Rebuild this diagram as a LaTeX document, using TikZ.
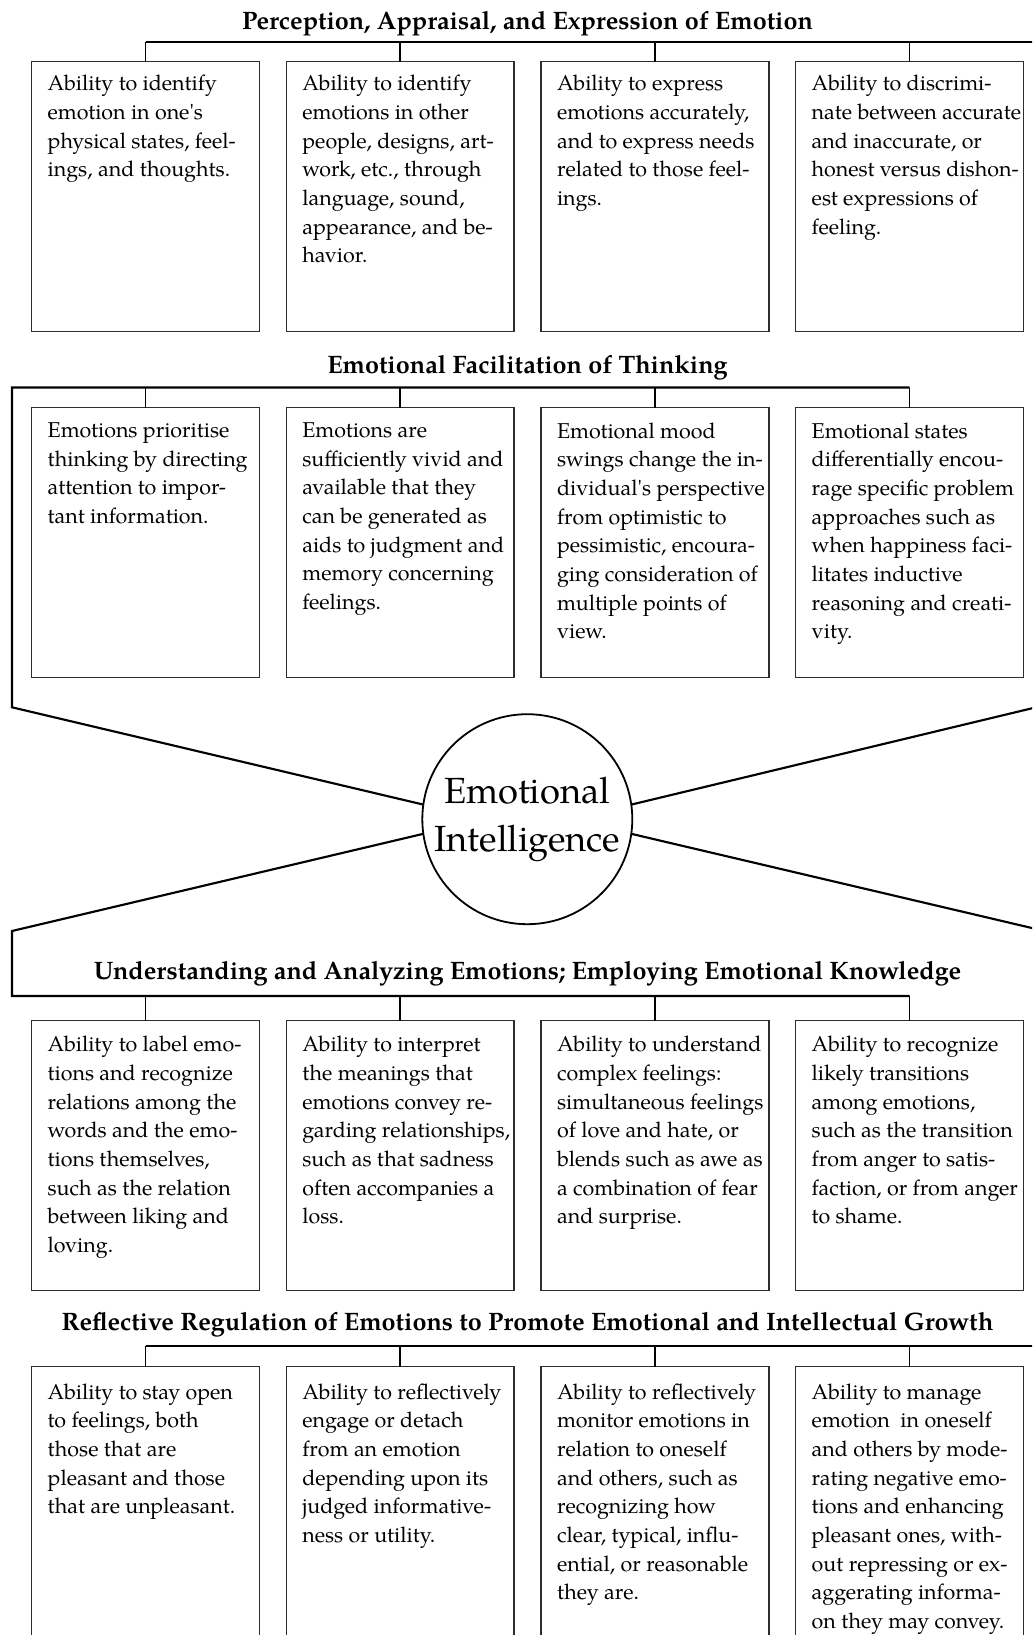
\documentclass[tikz,border=0pt]{standalone}
\usepackage{fontspec}
\setmainfont{TeX Gyre Pagella}
\tikzset{every picture/.style={line width=0.75pt}}
\tikzset{
  box/.style={draw={rgb, 255:red, 45; green, 45; blue, 45}, line width=1.1pt, anchor=north, minimum width=170.8pt, minimum height=202.5pt, inner sep=0pt, outer sep=0pt},
  boxtext/.style={anchor=north west, align=left, inner sep=0pt, font=\fontsize{16.1}{21.5}\selectfont, execute at begin node=\strut},
  heading/.style={anchor=base, inner sep=0pt, font=\bfseries\fontsize{18.9}{22}\selectfont},
  hub/.style={circle, draw, line width=1.35pt, minimum size=157.5pt, inner sep=0pt, outer sep=0pt, align=center, font=\fontsize{27.3}{36.2}\selectfont},
  trunk/.style={line width=1.6pt},
  stub/.style={line width=1.1pt}
}

\begin{document}
\begin{tikzpicture}[x=0.75pt,y=0.75pt,yscale=-1,xscale=1]
\useasboundingbox (0,0) rectangle (1032,1635);
\clip (0,0) rectangle (1032,1635);

% Hub
\node[hub] (ei) at (527.3,819.2) {Emotional\\Intelligence};

%Shape: Rectangle -- Perception
\node[box] (p1) at (145.5,61.7) {};
\node[box] (p2) at (400.2,61.7) {};
\node[box] (p3) at (654.9,61.7) {};
\node[box] (p4) at (909.6,61.7) {};
%Shape: Rectangle -- Facilitation
\node[box] (f1) at (145.5,407.7) {};
\node[box] (f2) at (400.2,407.7) {};
\node[box] (f3) at (654.9,407.7) {};
\node[box] (f4) at (909.6,407.7) {};
%Shape: Rectangle -- Understanding
\node[box] (u1) at (145.5,1020.5) {};
\node[box] (u2) at (400.2,1020.5) {};
\node[box] (u3) at (654.9,1020.5) {};
\node[box] (u4) at (909.6,1020.5) {};
%Shape: Rectangle -- Regulation (runs off the page)
\node[box, minimum height=240pt] (r1) at (145.5,1366.7) {};
\node[box, minimum height=240pt] (r2) at (400.2,1366.7) {};
\node[box, minimum height=240pt] (r3) at (654.9,1366.7) {};
\node[box, minimum height=240pt] (r4) at (909.6,1366.7) {};

% Bar ends
\coordinate (pbar) at (1034,41.7);
\coordinate (pk) at (1034,707.8);
\coordinate (fl) at (12,387.5);
\coordinate (fk) at (12,707.3);
\coordinate (uk) at (12,931);
\coordinate (ul) at (12,996);
\coordinate (rk) at (1034,928.5);
\coordinate (rbar) at (1034,1346);

%Straight Lines -- Perception
\draw[trunk] (ei.8) -- (pk);
\draw[trunk] (p1.north |- pbar) -- (pbar);
\draw[stub] (p1.north) -- (p1.north |- pbar);
\draw[stub] (p2.north) -- (p2.north |- pbar);
\draw[stub] (p3.north) -- (p3.north |- pbar);
\draw[stub] (p4.north) -- (p4.north |- pbar);
%Straight Lines -- Facilitation
\draw[trunk] (ei.172) -- (fk) -- (fl) -- (f4.north |- fl);
\draw[stub] (f1.north) -- (f1.north |- fl);
\draw[stub] (f2.north) -- (f2.north |- fl);
\draw[stub] (f3.north) -- (f3.north |- fl);
\draw[stub] (f4.north) -- (f4.north |- fl);
%Straight Lines -- Understanding
\draw[trunk] (ei.188) -- (uk) -- (ul) -- (u4.north |- ul);
\draw[stub] (u1.north) -- (u1.north |- ul);
\draw[stub] (u2.north) -- (u2.north |- ul);
\draw[stub] (u3.north) -- (u3.north |- ul);
\draw[stub] (u4.north) -- (u4.north |- ul);
%Straight Lines -- Regulation
\draw[trunk] (ei.352) -- (rk);
\draw[trunk] (r1.north |- rbar) -- (rbar);
\draw[stub] (r1.north) -- (r1.north |- rbar);
\draw[stub] (r2.north) -- (r2.north |- rbar);
\draw[stub] (r3.north) -- (r3.north |- rbar);
\draw[stub] (r4.north) -- (r4.north |- rbar);

% Text Node -- headings
\node[heading] (hp) at (527.5,29.3) {Perception, Appraisal, and Expression of Emotion};
\node[heading] (hf) at (527.5,373.3) {Emotional Facilitation of Thinking};
\node[heading] (hu) at (527.5,979.5) {Understanding and Analyzing Emotions; Employing Emotional Knowledge};
\node[heading] (hr) at (527.5,1330) {Reflective Regulation of Emotions to Promote Emotional and Intellectual Growth};

% Text Node -- Perception
\node[boxtext] (p1t) at ([shift={(15.5,13)}]p1.north west) {Ability to identify\\emotion in one\textquotesingle s\\physical states, feel-\\ings, and thoughts.};
\node[boxtext] (p2t) at ([shift={(15.5,13)}]p2.north west) {Ability to identify\\emotions in other\\people, designs, art-\\work, etc., through\\language, sound,\\appearance, and be-\\havior.};
\node[boxtext] (p3t) at ([shift={(15.5,13)}]p3.north west) {Ability to express\\emotions accurately,\\and to express needs\\related to those feel-\\ings.};
\node[boxtext] (p4t) at ([shift={(15.5,13)}]p4.north west) {Ability to discrimi-\\nate between accurate\\and inaccurate, or\\honest versus dishon-\\est expressions of\\feeling.};

% Text Node -- Facilitation
\node[boxtext] (f1t) at ([shift={(15.5,14.4)}]f1.north west) {Emotions prioritise\\thinking by directing\\attention to impor-\\tant information.};
\node[boxtext] (f2t) at ([shift={(15.5,14.4)}]f2.north west) {Emotions are\\sufficiently vivid and\\available that they\\can be generated as\\aids to judgment and\\memory concerning\\feelings.};
\node[boxtext] (f3t) at ([shift={(15.5,14.4)}]f3.north west) {Emotional mood\\swings change the in-\\dividual\textquotesingle s perspective\\from optimistic to\\pessimistic, encoura-\\ging consideration of\\multiple points of\\view.};
\node[boxtext] (f4t) at ([shift={(15.5,14.4)}]f4.north west) {Emotional states\\differentially encou-\\rage specific problem\\approaches such as\\when happiness faci-\\litates inductive\\reasoning and creati-\\vity.};

% Text Node -- Understanding
\node[boxtext] (u1t) at ([shift={(15.5,15.1)}]u1.north west) {Ability to label emo-\\tions and recognize\\relations among the\\words and the emo-\\tions themselves,\\such as the relation\\between liking and\\loving.};
\node[boxtext] (u2t) at ([shift={(15.5,15.1)}]u2.north west) {Ability to interpret\\the meanings that\\emotions convey re-\\garding relationships,\\such as that sadness\\often accompanies a\\loss.};
\node[boxtext] (u3t) at ([shift={(15.5,15.1)}]u3.north west) {Ability to understand\\complex feelings:\\simultaneous feelings\\of love and hate, or\\blends such as awe as\\a combination of fear\\and surprise.};
\node[boxtext] (u4t) at ([shift={(15.5,15.1)}]u4.north west) {Ability to recognize\\likely transitions\\among emotions,\\such as the transition\\from anger to satis-\\faction, or from anger\\to shame.};

% Text Node -- Regulation
\node[boxtext] (r1t) at ([shift={(15.5,16.4)}]r1.north west) {Ability to stay open\\to feelings, both\\those that are\\pleasant and those\\that are unpleasant.};
\node[boxtext] (r2t) at ([shift={(15.5,16.4)}]r2.north west) {Ability to reflectively\\engage or detach\\from an emotion\\depending upon its\\judged informative-\\ness or utility.};
\node[boxtext] (r3t) at ([shift={(15.5,16.4)}]r3.north west) {Ability to reflectively\\monitor emotions in\\relation to oneself\\and others, such as\\recognizing how\\clear, typical, influ-\\ential, or reasonable\\they are.};
\node[boxtext] (r4t) at ([shift={(15.5,16.4)}]r4.north west) {Ability to manage\\emotion~ in oneself\\and others by mode-\\rating negative emo-\\tions and enhancing\\pleasant ones, with-\\out repressing or ex-\\aggerating informa-\\on they may convey.};

\end{tikzpicture}
\end{document}
